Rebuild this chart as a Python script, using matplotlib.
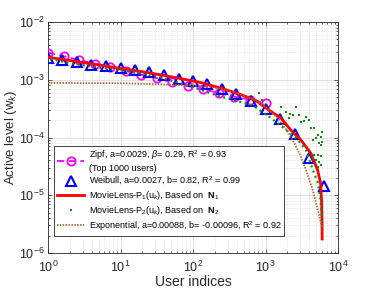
import matplotlib
matplotlib.use("Agg")
import matplotlib.pyplot as plt
from matplotlib.lines import Line2D
from matplotlib.ticker import LogLocator, NullFormatter

plt.rcParams['font.family'] = ['Liberation Sans', 'DejaVu Sans']
plt.rcParams['mathtext.fontset'] = 'custom'
plt.rcParams['mathtext.rm'] = 'Liberation Sans'
plt.rcParams['mathtext.it'] = 'Liberation Sans:italic'
plt.rcParams['mathtext.bf'] = 'Liberation Sans:bold'

# ---- data ----
zipf_x = [1, 1.64, 2.68, 4.39, 7.2, 11.8, 19.3, 31.6, 51.8, 84.8, 139, 228, 373, 611, 1000]
zipf_y = [2.95e-3, 2.55e-3, 2.2e-3, 1.9e-3, 1.65e-3, 1.42e-3, 1.23e-3, 1.07e-3,
          9.0e-4, 7.8e-4, 6.8e-4, 5.9e-4, 5.1e-4, 4.5e-4, 4.0e-4]

weib_x = [1, 1.58, 2.51, 3.98, 6.31, 10, 15.8, 25.1, 39.8, 63.1, 100, 158, 251, 398,
          631, 1000, 1585, 2512, 3981, 6310]
weib_y = [2.35e-3, 2.2e-3, 2.06e-3, 1.8e-3, 1.75e-3, 1.58e-3, 1.47e-3, 1.35e-3,
          1.19e-3, 1.03e-3, 9.5e-4, 8.33e-4, 6.84e-4, 5.6e-4, 4.29e-4, 3.08e-4,
          2.09e-4, 1.15e-4, 4.47e-5, 1.44e-5]

p1_x = [1, 2.77, 10, 25.8, 67, 127, 240, 454, 733, 1109, 1626, 2236, 3076, 4230,
        5236, 5750, 5950, 6020, 6040]
p1_y = [2.45e-3, 2.03e-3, 1.57e-3, 1.31e-3, 1.05e-3, 8.96e-4, 7.19e-4, 5.56e-4,
        4.38e-4, 2.99e-4, 2.18e-4, 1.35e-4, 9.05e-5, 5.32e-5, 2.74e-5, 1.61e-5,
        7.34e-6, 3.73e-6, 1.75e-6]

p2_x = [1.07, 2.15, 4.47, 8.46, 16, 30.3, 52, 108, 205, 454, 687, 1183, 1790, 2795,
        3605, 4510, 5290, 5750, 5950, 6040]
p2_y = [2.29e-3, 1.91e-3, 1.66e-3, 1.5e-3, 1.36e-3, 1.16e-3, 9.5e-4, 7.19e-4,
        5.44e-4, 4.12e-4, 3.51e-4, 2.18e-4, 1.46e-4, 9.06e-5, 6.08e-5, 2.74e-5,
        1.63e-5, 8.27e-6, 4.2e-6, 2.5e-6]

p2_out_x = [815, 908, 2624, 1905, 2360, 2914, 2118, 3605, 3076, 3420, 4010, 4227,
            4697, 5950, 5236, 4467, 4963, 5510, 5820, 6000, 5900, 4697, 5236, 5820,
            4467, 4963, 5510, 5820, 5236, 1626, 2200]
p2_out_y = [5.97e-4, 4.46e-4, 3.33e-4, 2.8e-4, 2.45e-4, 2.45e-4, 2.15e-4, 2.29e-4,
            1.88e-4, 1.93e-4, 2.01e-4, 1.44e-4, 1.44e-4, 1.26e-4, 1.1e-4, 9.05e-5,
            9.68e-5, 7.94e-5, 7.42e-5, 8.45e-5, 1.03e-4, 4.98e-5, 4.98e-5, 4.79e-5,
            4.37e-5, 4.08e-5, 3.81e-5, 3.34e-5, 3.12e-5, 3.37e-4, 2.6e-4]

exp_x = [1, 10, 100, 200, 400, 700, 1000, 1500, 2000, 2500, 3000, 3500, 4000, 4500,
         5000, 5250, 5500, 5750, 6040]
exp_y = [8.8e-4, 8.7e-4, 8.0e-4, 7.3e-4, 6.0e-4, 4.5e-4, 3.4e-4, 2.1e-4, 1.3e-4,
         8.0e-5, 5.0e-5, 3.1e-5, 1.9e-5, 1.2e-5, 7.2e-6, 5.7e-6, 4.5e-6, 3.5e-6, 2.7e-6]

labels = [
    "Zipf, a=0.0029, $\\beta$= 0.29, R$^2$ = 0.93\n(Top 1000 users)",
    "Weibull, a=0.0027, b= 0.82, R$^2$ = 0.99",
    "MovieLens-P$_1$(u$_k$), Based on  $\\mathbf{N}_1$",
    "MovieLens-P$_2$(u$_k$), Based on  $\\mathbf{N}_2$",
    "Exponential, a=0.00088, b= -0.00096, R$^2$ = 0.92",
]

C_MAG = '#FF00FF'
C_BLUE = '#0000FF'
C_RED = '#FF0000'
C_GREEN = '#138A13'
C_BROWN = '#B0602A'

fig = plt.figure(figsize=(3.74, 2.9), dpi=100)
ax = fig.add_axes([48/374, 1-253/290, 290/374, 231/290])

ax.plot(zipf_x, zipf_y, linestyle=(0, (4, 2.5)), color=C_MAG, lw=1.3,
        marker='o', ms=6, mfc='none', mew=1.3, zorder=3)
ax.plot(weib_x, weib_y, linestyle='none', color=C_BLUE, marker='^', ms=6.5,
        mfc='none', mew=1.5, zorder=4)
ax.plot(p1_x, p1_y, color=C_RED, lw=2.0, zorder=5)
ax.plot(p2_x, p2_y, color=C_GREEN, lw=1.6, linestyle=(0, (0.9, 1.6)), zorder=6)
ax.plot(p2_out_x, p2_out_y, linestyle='none', marker='s', ms=2.1, color=C_GREEN,
        mew=0, zorder=6)
ax.plot(exp_x, exp_y, color=C_BROWN, lw=1.3, linestyle=(0, (0.8, 0.8)), zorder=7)

ax.set_xscale('log')
ax.set_yscale('log')
ax.set_xlim(1, 1e4)
ax.set_ylim(1e-6, 1e-2)

ax.xaxis.set_major_locator(LogLocator(base=10, numticks=10))
ax.yaxis.set_major_locator(LogLocator(base=10, numticks=10))
ax.xaxis.set_minor_locator(LogLocator(base=10, subs=range(2, 10), numticks=20))
ax.yaxis.set_minor_locator(LogLocator(base=10, subs=range(2, 10), numticks=20))
ax.xaxis.set_minor_formatter(NullFormatter())
ax.yaxis.set_minor_formatter(NullFormatter())

ax.grid(True, which='major', color='#d9d9d9', lw=0.6, linestyle='-')
ax.grid(True, which='minor', color='#d9d9d9', lw=0.5, linestyle=(0, (1, 1.5)))
ax.set_axisbelow(True)

ax.tick_params(which='both', direction='in', top=True, right=True,
               colors='#262626', labelsize=9)
ax.tick_params(which='major', length=3, width=0.5)
ax.tick_params(axis='y', which='major', pad=2.5)
ax.tick_params(axis='x', which='major', pad=5)
ax.tick_params(which='minor', length=1.5, width=0.5)
for s in ax.spines.values():
    s.set_color('#262626')
    s.set_linewidth(0.6)

ax.set_xlabel('User indices', fontsize=10, color='#262626', labelpad=0)
ax.set_ylabel('Active level (w$_k$)', fontsize=9.5, color='#262626', labelpad=0)

handles = [
    Line2D([], [], linestyle=(0, (4, 2.5)), color=C_MAG, lw=1.3, marker='o', ms=6,
           mfc='none', mew=1.3),
    Line2D([], [], linestyle='none', color=C_BLUE, marker='^', ms=6.5, mfc='none', mew=1.5),
    Line2D([], [], color=C_RED, lw=2.0),
    Line2D([], [], linestyle='none', marker='s', ms=2.0, color=C_GREEN, mew=0),
    Line2D([], [], color=C_BROWN, lw=1.3, linestyle=(0, (0.8, 0.8))),
]
leg = ax.legend(handles, labels, loc='lower left', bbox_to_anchor=(0.02, 0.075),
                borderaxespad=0, fontsize=6.5, frameon=True, fancybox=False,
                edgecolor='#262626', framealpha=1, handlelength=3.0,
                handletextpad=0.5, labelspacing=0.22, borderpad=0.35)
leg.get_frame().set_linewidth(0.6)

fig.savefig('out.png', dpi=100)
